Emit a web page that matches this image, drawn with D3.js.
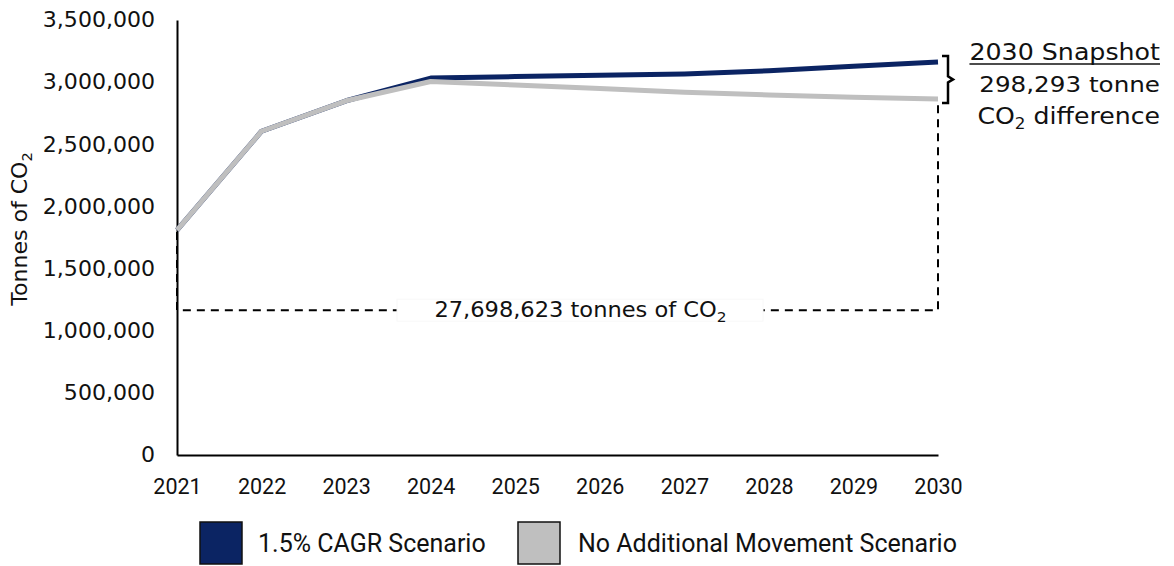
<!DOCTYPE html>
<html>
<head>
<meta charset="utf-8">
<script src="https://cdn.jsdelivr.net/npm/d3@7"></script>
<style>
  html, body { margin: 0; padding: 0; background: #ffffff; }
  svg { display: block; }
</style>
</head>
<body>
<svg id="chart" width="1174" height="566"></svg>
<script>
// ---- Data ----
const years = [2021, 2022, 2023, 2024, 2025, 2026, 2027, 2028, 2029, 2030];
const cagrScenario = [1810000, 2605000, 2850000, 3033000, 3045000, 3055000, 3066000, 3092000, 3128000, 3163000];
const noMoveScenario = [1810000, 2605000, 2850000, 3005000, 2977000, 2948000, 2918000, 2897000, 2878000, 2865000];
const yTicks = [0, 500000, 1000000, 1500000, 2000000, 2500000, 3000000, 3500000];
const seriesNames = ["1.5% CAGR Scenario", "No Additional Movement Scenario"];
const cumulativeLabel = "27,698,623 tonnes of CO";
const snapshotTitle = "2030 Snapshot";
const snapshotValue = "298,293 tonne";
const snapshotUnit = "difference";
const annotationLevel = 1165000;

(function () {
// ---- Layout ----
const svg = d3.select("#chart");
const mLeft = 177, mRight = 938, mTop = 20, mBottom = 455;
const blue = "#0b2463", grey = "#bfbfbf";
const ink = "#111111";
const wideFont = "DejaVu Sans";

const x = d3.scalePoint().domain(years).range([mLeft, mRight]);
const y = d3.scaleLinear().domain([0, 3500000]).range([mBottom, mTop]);

// Y axis
const yAxis = svg.append("g").attr("transform", `translate(${mLeft},0)`)
  .call(d3.axisLeft(y).tickValues(yTicks).tickSize(0).tickFormat(d3.format(",")));
yAxis.select(".domain").attr("stroke", "#000").attr("stroke-width", 2);
yAxis.selectAll("text")
  .attr("x", 0)
  .attr("font-family", wideFont).attr("font-size", 21).attr("fill", ink)
  .attr("transform", "translate(-22,0) scale(1.05,1)");

// X axis
const xAxis = svg.append("g").attr("transform", `translate(0,${mBottom})`)
  .call(d3.axisBottom(x).tickSize(0).tickFormat(d => String(d)));
xAxis.select(".domain").attr("stroke", "#000").attr("stroke-width", 2);
xAxis.selectAll("text")
  .attr("y", 0).attr("dy", 0)
  .attr("transform", "translate(0,39)")
  .attr("font-family", "Roboto").attr("font-size", 21.5).attr("fill", ink);

// Y title
const yTitle = svg.append("text")
  .attr("transform", "translate(27,229) rotate(-90) scale(1.05,1)")
  .attr("text-anchor", "middle")
  .attr("font-family", wideFont).attr("font-size", 21).attr("fill", ink);
yTitle.append("tspan").text("Tonnes of CO");
yTitle.append("tspan").attr("font-size", 14).attr("dy", 5).text("2");

// Dashed annotation lines
const yAnn = y(annotationLevel);
const dash = "8,6";
svg.append("path")
  .attr("d", d3.line()([[x(years[0]), y(noMoveScenario[0]) + 2], [x(years[0]), yAnn], [x(years[9]), yAnn], [x(years[9]), y(noMoveScenario[9]) + 4]]))
  .attr("fill", "none").attr("stroke", "#000").attr("stroke-width", 2).attr("stroke-dasharray", dash);

// Lines
const line = d3.line().x((d, i) => x(years[i])).y(d => y(d));
svg.append("path").datum(cagrScenario).attr("d", line)
  .attr("fill", "none").attr("stroke", blue).attr("stroke-width", 5).attr("stroke-linejoin", "round");
svg.append("path").datum(noMoveScenario).attr("d", line)
  .attr("fill", "none").attr("stroke", grey).attr("stroke-width", 5).attr("stroke-linejoin", "round");

// Cumulative label with white box
const midX = (x(years[0]) + x(years[9])) / 2 + 23;
svg.append("rect").attr("x", 397).attr("y", yAnn - 11).attr("width", 366).attr("height", 22)
  .attr("fill", "#fff").attr("stroke", "#f8f8f8").attr("stroke-width", 1);
const cum = svg.append("text")
  .attr("transform", `translate(${midX},${yAnn + 7}) scale(1.1,1)`)
  .attr("text-anchor", "middle")
  .attr("font-family", wideFont).attr("font-size", 20.5).attr("fill", ink);
cum.append("tspan").text(cumulativeLabel);
cum.append("tspan").attr("font-size", 14).attr("dy", 5).text("2");

// Bracket
const bx = x(years[9]) + 4;
const yTopB = y(cagrScenario[9]) - 6, yBotB = y(noMoveScenario[9]) + 4, yMidB = (yTopB + yBotB) / 2;
svg.append("path")
  .attr("d", `M${bx},${yTopB} H${bx + 6} V${yMidB - 3} L${bx + 11},${yMidB} L${bx + 6},${yMidB + 3} V${yBotB} H${bx}`)
  .attr("fill", "none").attr("stroke", "#000").attr("stroke-width", 2.5);

// Snapshot texts (right aligned)
const tx = 1160;
const t1 = svg.append("text")
  .attr("transform", `translate(${tx},60) scale(1.1,1)`).attr("text-anchor", "end")
  .attr("font-family", wideFont).attr("font-size", 23).attr("fill", ink)
  .text(snapshotTitle);
const w1 = t1.node().getComputedTextLength() * 1.1;
svg.append("line").attr("x1", tx - w1).attr("x2", tx).attr("y1", 64).attr("y2", 64)
  .attr("stroke", ink).attr("stroke-width", 1.6);
svg.append("text")
  .attr("transform", `translate(${tx},92) scale(1.12,1)`).attr("text-anchor", "end")
  .attr("font-family", wideFont).attr("font-size", 22).attr("fill", ink)
  .text(snapshotValue);
const t3 = svg.append("text")
  .attr("transform", `translate(${tx},124) scale(1.12,1)`).attr("text-anchor", "end")
  .attr("font-family", wideFont).attr("font-size", 22.5).attr("fill", ink);
t3.append("tspan").text("CO");
t3.append("tspan").attr("font-size", 15).attr("dy", 5).text("2");
t3.append("tspan").attr("dy", -5).text(" " + snapshotUnit);

// Legend
const legendItems = [
  { name: seriesNames[0], color: blue, rx: 200, tx: 258 },
  { name: seriesNames[1], color: grey, rx: 518, tx: 578 }
];
const lg = svg.append("g");
legendItems.forEach(it => {
  lg.append("rect").attr("x", it.rx).attr("y", 522).attr("width", 42).attr("height", 42)
    .attr("fill", it.color).attr("stroke", "#111").attr("stroke-width", 1.5);
  lg.append("text").attr("x", it.tx).attr("y", 552)
    .attr("font-family", "Roboto").attr("font-size", 25).attr("fill", ink)
    .text(it.name);
});
})();
</script>
</body>
</html>
